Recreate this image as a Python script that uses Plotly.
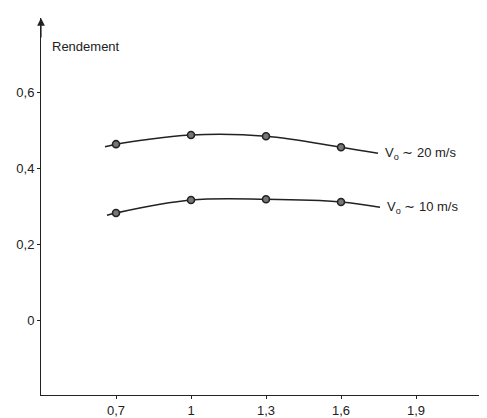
import plotly.graph_objects as go

# Measured points (rendement vs ratio)
x_points = [0.7, 1.0, 1.3, 1.6]
y_20 = [0.463, 0.487, 0.484, 0.455]
y_10 = [0.282, 0.316, 0.318, 0.311]

# Drawn fitted curves (including their ends)
curve20_x = [0.656, 0.7, 1.0, 1.3, 1.6, 1.748]
curve20_y = [0.456, 0.463, 0.487, 0.484, 0.455, 0.439]
curve10_x = [0.664, 0.7, 1.0, 1.3, 1.6, 1.756]
curve10_y = [0.276, 0.282, 0.316, 0.318, 0.311, 0.297]

x_tickvals = [0.7, 1.0, 1.3, 1.6, 1.9]
x_ticktext = ["0,7", "1", "1,3", "1,6", "1,9"]
y_tickvals = [0, 0.2, 0.4, 0.6]
y_ticktext = ["0", "0,2", "0,4", "0,6"]

series_labels = ["V<sub>o</sub> ∼ 20 m/s", "V<sub>o</sub> ∼ 10 m/s"]

FONT = "Liberation Sans, Arial, sans-serif"
INK = "#222222"

fig = go.Figure()
for cx, cy in [(curve20_x, curve20_y), (curve10_x, curve10_y)]:
    fig.add_trace(go.Scatter(x=cx, y=cy, mode="lines", line=dict(color=INK, width=1.6, shape="spline", smoothing=1.0),
                             hoverinfo="skip", showlegend=False))
for yy in [y_20, y_10]:
    fig.add_trace(go.Scatter(x=x_points, y=yy, mode="markers",
                             marker=dict(symbol="circle", size=7, color="#777777", line=dict(color=INK, width=1.6)),
                             showlegend=False))

# series labels at curve ends
for cx, cy, lab in [(curve20_x, curve20_y, series_labels[0]), (curve10_x, curve10_y, series_labels[1])]:
    fig.add_annotation(x=cx[-1], y=cy[-1], text=lab, showarrow=False, xanchor="left", yanchor="middle",
                       xshift=5, font=dict(family=FONT, size=13, color=INK))

fig.add_annotation(x=0.435, y=0.72, text="Rendement", showarrow=False, xanchor="left", yanchor="middle",
                   font=dict(family=FONT, size=13, color=INK))

# arrow on top of the y axis
fig.add_annotation(x=0.4, y=0.795, ax=0.4, ay=0.74, xref="x", yref="y", axref="x", ayref="y",
                   showarrow=True, arrowhead=2, arrowsize=1.3, arrowwidth=1.2, arrowcolor=INK, text="")

# the page body adds an 8px offset; compensate so the plot area sits where the reference's does
fig.update_layout(
    width=479, height=410,
    margin=dict(l=33, r=0, t=10, b=23, autoexpand=False),
    paper_bgcolor="white", plot_bgcolor="white",
    font=dict(family=FONT, size=13, color=INK),
    showlegend=False,
    xaxis=dict(range=[0.4, 2.184], tickvals=x_tickvals, ticktext=x_ticktext, showgrid=False, zeroline=False,
               automargin=False, showline=True, linecolor=INK, linewidth=1, ticks="outside", ticklen=3,
               tickcolor=INK, tickfont=dict(size=13)),
    yaxis=dict(range=[-0.197, 0.795], tickvals=y_tickvals, ticktext=y_ticktext, showgrid=False, zeroline=False,
               automargin=False, showline=True, linecolor=INK, linewidth=1, ticks="outside", ticklen=3,
               tickcolor=INK, tickfont=dict(size=13)),
)

fig.write_html("out.html")
